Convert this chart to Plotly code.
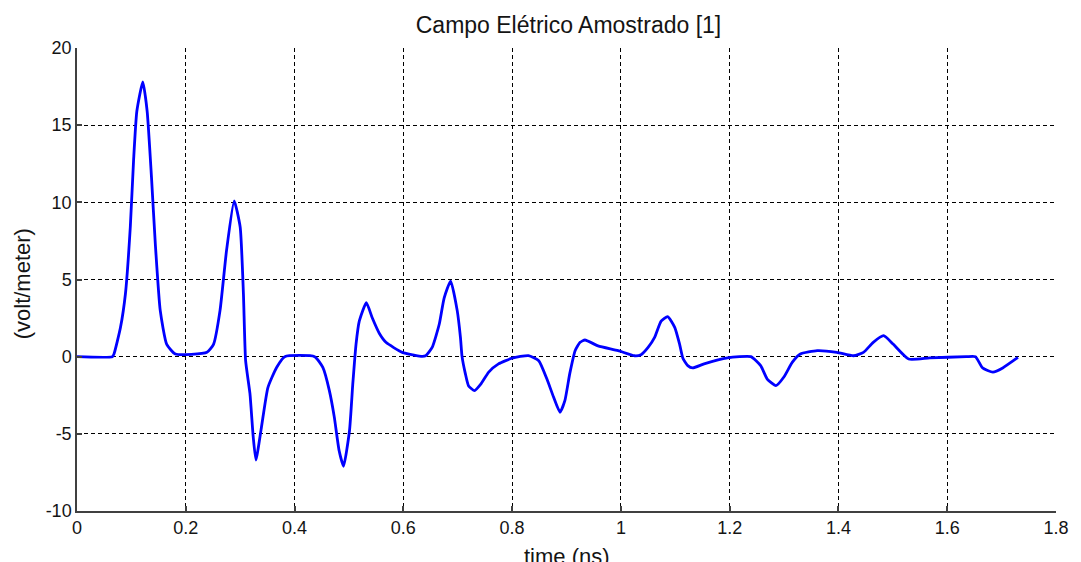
import plotly.graph_objects as go

# Sampled electric field trace: time in ns, field in volt/meter
time_ns = [
    0.000, 0.065, 0.068, 0.080, 0.089, 0.098, 0.104, 0.110, 0.121, 0.129,
    0.137, 0.144, 0.153, 0.165, 0.181, 0.239, 0.251, 0.263, 0.275, 0.289,
    0.300, 0.306, 0.310, 0.318, 0.324, 0.329, 0.339, 0.351, 0.367, 0.382,
    0.437, 0.452, 0.464, 0.473, 0.482, 0.490, 0.501, 0.507, 0.513, 0.519,
    0.532, 0.543, 0.556, 0.568, 0.598, 0.635, 0.641, 0.653, 0.666, 0.675,
    0.687, 0.699, 0.705, 0.708, 0.714, 0.720, 0.731, 0.742, 0.757, 0.775,
    0.800, 0.830, 0.849, 0.864, 0.876, 0.888, 0.897, 0.906, 0.916, 0.925,
    0.934, 0.958, 0.995, 1.025, 1.037, 1.050, 1.062, 1.074, 1.086, 1.099,
    1.108, 1.114, 1.123, 1.132, 1.153, 1.196, 1.239, 1.257, 1.269, 1.285,
    1.300, 1.315, 1.330, 1.361, 1.397, 1.428, 1.446, 1.464, 1.483, 1.501,
    1.529, 1.568, 1.635, 1.652, 1.665, 1.684, 1.702, 1.730,
]
field_vm = [
    0.00, 0.00, 0.17, 1.90, 4.06, 8.40, 12.70, 15.90, 17.80, 15.90,
    11.60, 7.30, 3.00, 0.80, 0.17, 0.28, 0.80, 3.00, 6.90, 10.10,
    8.40, 4.06, -0.26, -2.40, -5.20, -6.70, -4.60, -2.00, -0.70, 0.00,
    0.00, -0.70, -2.20, -3.90, -6.10, -7.10, -4.80, -1.80, 0.80, 2.30,
    3.50, 2.50, 1.50, 0.93, 0.28, 0.02, 0.06, 0.60, 2.10, 3.80,
    4.90, 3.00, 1.25, 0.00, -1.10, -1.90, -2.20, -1.80, -1.00, -0.47,
    -0.10, 0.07, -0.26, -1.45, -2.60, -3.60, -2.85, -1.10, 0.40, 0.93,
    1.08, 0.70, 0.39, 0.06, 0.13, 0.60, 1.25, 2.30, 2.60, 1.90,
    0.80, -0.10, -0.58, -0.73, -0.47, -0.08, 0.00, -0.58, -1.45, -1.88,
    -1.30, -0.37, 0.17, 0.39, 0.28, 0.06, 0.28, 0.93, 1.36, 0.80,
    -0.15, -0.08, 0.00, 0.00, -0.73, -1.00, -0.73, -0.05,
]

x_ticks = [0, 0.2, 0.4, 0.6, 0.8, 1, 1.2, 1.4, 1.6, 1.8]
x_tick_text = ["0", "0.2", "0.4", "0.6", "0.8", "1", "1.2", "1.4", "1.6", "1.8"]
y_ticks = [-10, -5, 0, 5, 10, 15, 20]
y_tick_text = ["-10", "-5", "0", "5", "10", "15", "20"]

font_family = "Liberation Sans, Arial, sans-serif"
text_color = "#141414"

fig = go.Figure()
fig.add_trace(go.Scatter(
    x=time_ns, y=field_vm, mode="lines",
    line=dict(color="#0000FF", width=2.8, shape="spline", smoothing=0.5),
    hoverinfo="x+y", showlegend=False,
))

axis_common = dict(
    showgrid=True, gridcolor="#000000", gridwidth=1, griddash="4px,3px",
    zeroline=False, showline=True, linecolor="#404040", linewidth=1.5,
    ticks="inside", ticklen=5, tickcolor="#404040", tickwidth=1.5,
    tickfont=dict(family=font_family, size=18, color=text_color),
    mirror=False,
)

fig.update_layout(
    width=1081, height=562,
    margin=dict(l=77, r=21, t=48, b=51),
    paper_bgcolor="white", plot_bgcolor="white",
    font=dict(family=font_family, color=text_color),
    title=dict(
        text="Campo Elétrico Amostrado [1]",
        x=(77 + 1060) / 2 / 1081, xanchor="center",
        y=1 - 25 / 562, yanchor="middle", yref="container",
        font=dict(family=font_family, size=23, color=text_color),
    ),
    xaxis=dict(range=[0, 1.8], tickvals=x_ticks, ticktext=x_tick_text, **axis_common),
    yaxis=dict(range=[-10, 20], tickvals=y_ticks, ticktext=y_tick_text, **axis_common),
    annotations=[
        dict(text="time (ns)", xref="paper", yref="paper", x=0.5, y=-0.098,
             xanchor="center", yanchor="middle", showarrow=False,
             font=dict(family=font_family, size=22, color=text_color)),
        dict(text="(volt/meter)", xref="paper", yref="paper", x=-0.056, y=0.49,
             xanchor="center", yanchor="middle", showarrow=False, textangle=-90,
             font=dict(family=font_family, size=22, color=text_color)),
    ],
)

fig.write_html("out.html")
